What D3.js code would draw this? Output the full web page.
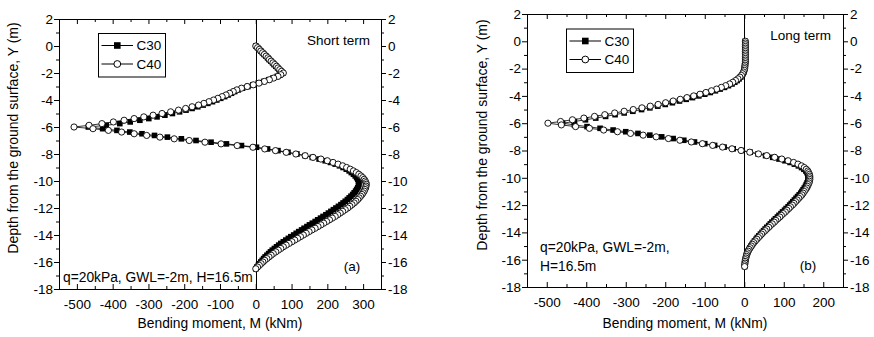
<!DOCTYPE html>
<html>
<head>
<meta charset="utf-8">
<script src="https://cdn.jsdelivr.net/npm/d3@7"></script>
<style>
  body { margin: 0; background: #fff; }
  svg text { font-family: "Liberation Sans", Arial, sans-serif; fill: #000; }
</style>
</head>
<body>
<div id="viz"></div>
<script>
// pile nodes, depth below ground surface (m)
let depth = [
  0, -0.125, -0.25, -0.375, -0.5, -0.625, -0.75, -0.875,
  -1, -1.125, -1.25, -1.375, -1.5, -1.625, -1.75, -1.875,
  -2, -2.125, -2.25, -2.375, -2.5, -2.625, -2.75, -2.875,
  -3, -3.125, -3.25, -3.375, -3.5, -3.625, -3.75, -3.875,
  -4, -4.125, -4.25, -4.375, -4.5, -4.625, -4.75, -4.875,
  -5, -5.125, -5.25, -5.375, -5.5, -5.625, -5.75, -5.875,
  -6, -6.125, -6.25, -6.375, -6.5, -6.625, -6.75, -6.875,
  -7, -7.125, -7.25, -7.375, -7.5, -7.625, -7.75, -7.875,
  -8, -8.125, -8.25, -8.375, -8.5, -8.625, -8.75, -8.875,
  -9, -9.125, -9.25, -9.375, -9.5, -9.625, -9.75, -9.875,
  -10, -10.125, -10.25, -10.375, -10.5, -10.625, -10.75, -10.875,
  -11, -11.125, -11.25, -11.375, -11.5, -11.625, -11.75, -11.875,
  -12, -12.125, -12.25, -12.375, -12.5, -12.625, -12.75, -12.875,
  -13, -13.125, -13.25, -13.375, -13.5, -13.625, -13.75, -13.875,
  -14, -14.125, -14.25, -14.375, -14.5, -14.625, -14.75, -14.875,
  -15, -15.125, -15.25, -15.375, -15.5, -15.625, -15.75, -15.875,
  -16, -16.125, -16.25, -16.375, -16.5
]

// bending moment (kNm), short term
let shortC30 = [
  0, 5, 9, 14, 19, 23, 28, 33, 37, 42, 47, 51, 56, 61, 65, 70, 75,
  68, 60, 48, 36, 22, 7, -8, -22,
  -37, -49, -59, -68, -77, -87, -98, -109, -121, -134, -147, -162,
  -178, -195, -213, -233, -254, -276, -299, -324, -351, -380, -418, -468,
  -428, -388, -352, -318, -283, -247, -208, -167, -125, -82, -40, 2,
  33, 62, 90, 115, 138, 158, 177, 194, 209, 222, 234, 244, 253, 261, 267, 273, 278, 282, 285, 287, 288,
  288, 287, 285, 282, 279, 275, 271, 266, 261, 256,
  250, 244, 238, 231, 224, 217, 210, 203, 196, 188,
  181, 173, 166, 158, 150, 143, 135, 128, 120, 113,
  106, 98, 91, 84, 77, 70, 64, 58, 52, 46,
  41, 36, 31, 26, 22, 18, 14, 10, 7, 3, 0
]
let shortC40 = [
  0, 5, 10, 14, 19, 24, 29, 34, 38, 43, 48, 53, 58, 62, 67, 72, 77,
  70, 62, 50, 38, 24, 9, -7, -24,
  -40, -53, -63, -73, -83, -94, -106, -118, -131, -145, -160, -178,
  -196, -216, -238, -262, -287, -313, -340, -368, -398, -430, -466, -508,
  -455, -412, -375, -340, -305, -268, -228, -186, -142, -97, -52, -8,
  25, 55, 85, 112, 138, 160, 182, 200, 216, 230, 243, 254, 264, 273, 281, 288, 294, 299, 303, 306, 308,
  309, 308, 307, 305, 303, 300, 297, 293, 289, 285,
  280, 275, 269, 263, 257, 250, 243, 236, 229, 222,
  214, 206, 198, 190, 182, 174, 166, 157, 149, 141,
  133, 125, 117, 109, 101, 93, 85, 77, 70, 63,
  56, 49, 43, 37, 31, 25, 20, 15, 10, 5, 0
]

// bending moment (kNm), long term
let longC30 = [
  2, 2, 2, 2, 2, 2, 2, 2, 2, 2, 2, 2, 2, 2, 1.5, 1,
  1, 0, -1, -3, -6, -9, -13, -18, -24, -31,
  -40, -50, -61, -73, -86, -100, -115, -131, -147, -164,
  -182, -200, -219, -239, -260, -282, -304, -327, -351, -376,
  -402, -430, -460,
  -430, -398, -365, -332, -300, -269, -239, -209, -180, -153,
  -126, -100, -75, -51, -28, -6, 15, 35, 54, 72,
  88, 103, 116, 127, 137, 145, 151, 156, 159, 161,
  162, 162, 162,
  161, 159, 157, 155, 152, 149, 146, 143, 139, 135,
  131, 127, 123, 119, 115, 111, 106, 102, 97, 93,
  88, 84, 79, 75, 70, 66, 62, 57, 53, 49,
  45, 41, 37, 33, 30, 26, 23, 20, 17, 14,
  12, 10, 8, 6, 5, 4, 3, 2, 2, 1, 1
]
let longC40 = [
  3, 3, 3, 3, 3, 3, 3, 3, 3, 3, 3, 3, 3, 2.5, 2, 1.5,
  1, 0, -2, -4, -7, -11, -16, -22, -29, -37,
  -47, -58, -70, -83, -97, -112, -128, -145, -162, -180,
  -199, -218, -238, -259, -281, -304, -328, -353, -379, -406,
  -435, -465, -497,
  -463, -427, -392, -356, -321, -288, -256, -223, -192, -163,
  -134, -106, -80, -55, -31, -8, 14, 36, 57, 77,
  95, 111, 125, 136, 145, 152, 157, 161, 163, 165,
  166, 166, 166,
  165, 164, 162, 160, 158, 155, 152, 149, 146, 142,
  138, 134, 130, 126, 122, 117, 113, 108, 104, 99,
  94, 90, 85, 80, 76, 71, 66, 62, 57, 53,
  48, 44, 40, 36, 32, 28, 24, 21, 18, 15,
  12, 10, 8, 6, 5, 4, 3, 2, 2, 1, 1
]

let seriesNames = ['C30', 'C40']
let yTicks = [2, 0, -2, -4, -6, -8, -10, -12, -14, -16, -18]
let xTicksShort = [-500, -400, -300, -200, -100, 0, 100, 200, 300]
let xTicksLong = [-500, -400, -300, -200, -100, 0, 100, 200]

let svg = d3.select('#viz')
  .append('svg')
  .attr('width', 874)
  .attr('height', 337)

let panels = [{
    left: 59, right: 381, top: 19, bottom: 289,
    xDomain: [-550, 350], xTicks: xTicksShort,
    c30: shortC30, c40: shortC40,
    legend: [98, 33],
    term: 'Short term', termPos: [370, 44.5],
    tag: '(a)', tagPos: [352, 271],
    notes: ['q=20kPa, GWL=-2m, H=16.5m'], notePos: [63, 281.5],
    yTitleX: 18, yTitleY: 138
  },
  {
    left: 527, right: 843, top: 14, bottom: 287,
    xDomain: [-550, 250], xTicks: xTicksLong,
    c30: longC30, c40: longC40,
    legend: [566, 28.5],
    term: 'Long term', termPos: [831, 39.5],
    tag: '(b)', tagPos: [808, 270],
    notes: ['q=20kPa, GWL=-2m,', 'H=16.5m'], notePos: [540, 251.5],
    yTitleX: 486.5, yTitleY: 135
  }
]

let plain = d => String(d)

function styleAxis(sel) {
  sel.select('.domain').remove()
  sel.attr('font-size', 13.5).attr('font-family', '"Liberation Sans", Arial, sans-serif')
  sel.selectAll('line').attr('stroke', '#000')
}

function drawPanel(p) {
  let x = d3.scaleLinear().domain(p.xDomain).range([p.left, p.right])
  let y = d3.scaleLinear().domain([2, -18]).range([p.top, p.bottom])
  let g = svg.append('g')

  let xMinor = p.xTicks.map(v => v + 50).filter(v => v < p.xDomain[1])
  let yMinor = yTicks.map(v => v - 1).filter(v => v > -18)

  g.append('g').attr('transform', `translate(0,${p.bottom})`)
    .call(d3.axisBottom(x).tickValues(p.xTicks).tickSize(-5).tickSizeOuter(0).tickPadding(10).tickFormat(plain))
    .call(styleAxis)
  g.append('g').attr('transform', `translate(0,${p.bottom})`)
    .call(d3.axisBottom(x).tickValues(xMinor).tickSize(-3).tickSizeOuter(0).tickFormat(''))
    .call(styleAxis)
  g.append('g').attr('transform', `translate(0,${p.top})`)
    .call(d3.axisTop(x).tickValues(p.xTicks).tickSize(-5).tickSizeOuter(0).tickFormat(''))
    .call(styleAxis)
  g.append('g').attr('transform', `translate(0,${p.top})`)
    .call(d3.axisTop(x).tickValues(xMinor).tickSize(-3).tickSizeOuter(0).tickFormat(''))
    .call(styleAxis)

  g.append('g').attr('transform', `translate(${p.left},0)`)
    .call(d3.axisLeft(y).tickValues(yTicks).tickSize(5).tickSizeOuter(0).tickPadding(1).tickFormat(plain))
    .call(styleAxis)
  g.append('g').attr('transform', `translate(${p.left},0)`)
    .call(d3.axisLeft(y).tickValues(yMinor).tickSize(3).tickSizeOuter(0).tickFormat(''))
    .call(styleAxis)
  g.append('g').attr('transform', `translate(${p.right},0)`)
    .call(d3.axisRight(y).tickValues(yTicks).tickSize(5).tickSizeOuter(0).tickPadding(2).tickFormat(plain))
    .call(styleAxis)
  g.append('g').attr('transform', `translate(${p.right},0)`)
    .call(d3.axisRight(y).tickValues(yMinor).tickSize(3).tickSizeOuter(0).tickFormat(''))
    .call(styleAxis)

  g.append('rect')
    .attr('x', p.left + 0.5)
    .attr('y', p.top + 0.5)
    .attr('width', p.right - p.left)
    .attr('height', p.bottom - p.top)
    .attr('fill', 'none')
    .attr('stroke', '#000')

  g.append('line')
    .attr('x1', Math.round(x(0)) + 0.5)
    .attr('x2', Math.round(x(0)) + 0.5)
    .attr('y1', p.top)
    .attr('y2', p.bottom)
    .attr('stroke', '#000')

  let line = d3.line().x(d => x(d[0])).y(d => y(d[1]))
  let pts30 = depth.map((d, i) => [p.c30[i], d])
  let pts40 = depth.map((d, i) => [p.c40[i], d])

  g.append('path').datum(pts30)
    .attr('d', line)
    .attr('fill', 'none')
    .attr('stroke', '#000')
    .attr('stroke-width', 0.8)
  g.selectAll('rect.c30').data(pts30).enter().append('rect')
    .attr('class', 'c30')
    .attr('x', d => x(d[0]) - 2.8)
    .attr('y', d => y(d[1]) - 2.8)
    .attr('width', 5.6)
    .attr('height', 5.6)
    .attr('fill', '#000')

  g.append('path').datum(pts40)
    .attr('d', line)
    .attr('fill', 'none')
    .attr('stroke', '#000')
    .attr('stroke-width', 0.8)
  g.selectAll('circle.c40').data(pts40).enter().append('circle')
    .attr('class', 'c40')
    .attr('cx', d => x(d[0]))
    .attr('cy', d => y(d[1]))
    .attr('r', 3.1)
    .attr('fill', '#fff')
    .attr('stroke', '#000')
    .attr('stroke-width', 0.9)

  // legend
  let lx = p.legend[0], ly = p.legend[1]
  g.append('rect')
    .attr('x', lx + 0.5).attr('y', ly + 0.5)
    .attr('width', 67).attr('height', 43.5)
    .attr('fill', '#fff').attr('stroke', '#000')
  seriesNames.forEach((name, i) => {
    let cy = ly + 12.5 + i * 18.5
    g.append('line')
      .attr('x1', lx + 3.5).attr('x2', lx + 35)
      .attr('y1', cy).attr('y2', cy)
      .attr('stroke', '#000')
    if (i === 0) {
      g.append('rect')
        .attr('x', lx + 16).attr('y', cy - 3.3)
        .attr('width', 6.6).attr('height', 6.6)
        .attr('fill', '#000')
    } else {
      g.append('circle')
        .attr('cx', lx + 19.3).attr('cy', cy).attr('r', 3.4)
        .attr('fill', '#fff').attr('stroke', '#000')
    }
    g.append('text')
      .attr('x', lx + 38.5).attr('y', cy)
      .attr('dy', '0.35em')
      .attr('font-size', 13.5)
      .text(name)
  })

  g.append('text')
    .attr('x', p.termPos[0]).attr('y', p.termPos[1])
    .attr('text-anchor', 'end')
    .attr('font-size', 13.5)
    .text(p.term)

  g.append('text')
    .attr('x', p.tagPos[0]).attr('y', p.tagPos[1])
    .attr('text-anchor', 'middle')
    .attr('font-size', 13.5)
    .text(p.tag)

  p.notes.forEach((t, i) => {
    g.append('text')
      .attr('x', p.notePos[0]).attr('y', p.notePos[1] + i * 19)
      .attr('font-size', 13.8)
      .text(t)
  })

  g.append('text')
    .attr('x', (p.left + p.right) / 2).attr('y', 328)
    .attr('text-anchor', 'middle')
    .attr('font-size', 13.8)
    .text('Bending moment, M (kNm)')

  g.append('text')
    .attr('transform', `translate(${p.yTitleX},${p.yTitleY}) rotate(-90)`)
    .attr('text-anchor', 'middle')
    .attr('font-size', 14)
    .text('Depth from the ground surface, Y (m)')
}

panels.forEach(drawPanel)
</script>
</body>
</html>
